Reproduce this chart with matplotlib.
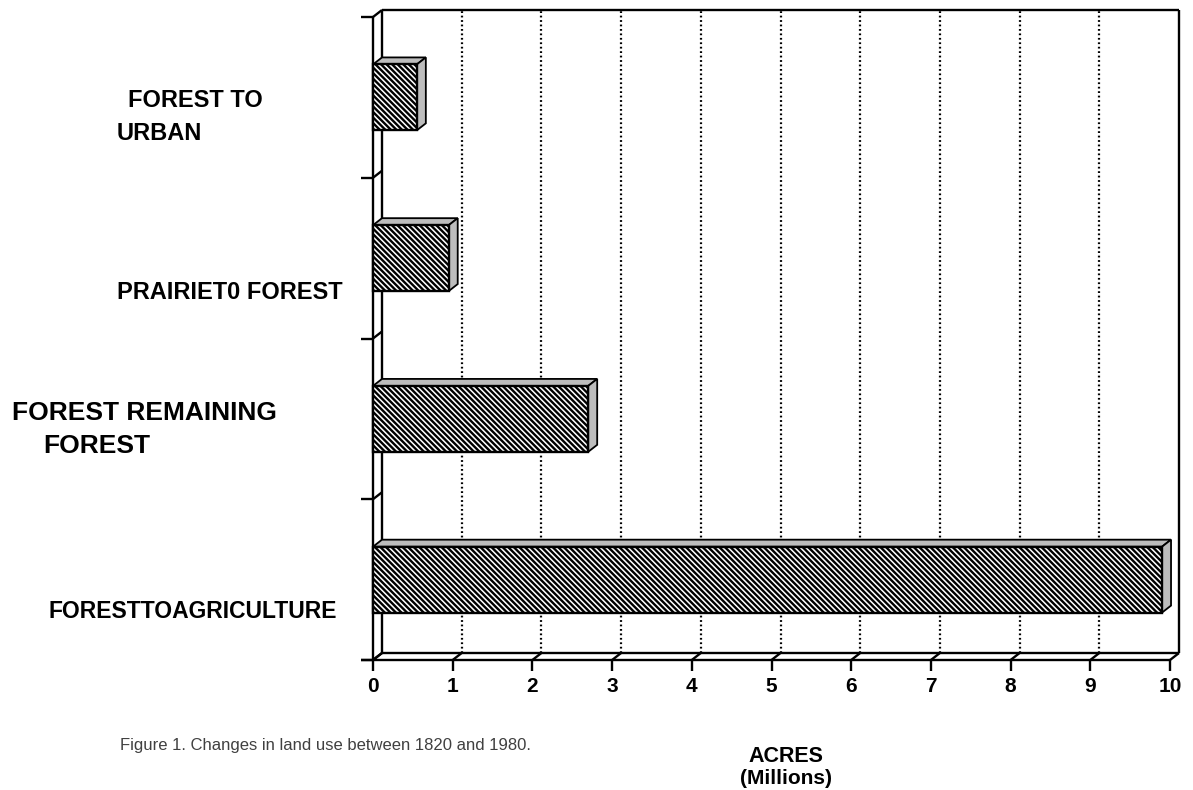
import matplotlib
matplotlib.use("Agg")
import matplotlib.pyplot as plt
from matplotlib.patches import Rectangle, Polygon

# land use change, millions of acres (bottom bar first)
categories = ["Forest to agriculture", "Forest remaining forest",
              "Prairie to forest", "Forest to urban"]
acres = [9.9, 2.7, 0.95, 0.55]
label_lines = [
    ["FORESTTOAGRICULTURE"],
    ["FOREST REMAINING", "FOREST"],
    ["PRAIRIET0 FOREST"],
    ["FOREST TO", "URBAN"],
]
x_ticks = [0, 1, 2, 3, 4, 5, 6, 7, 8, 9, 10]
caption = "Figure 1. Changes in land use between 1820 and 1980."
x_title = ["ACRES", "(Millions)"]

W, H, DPI = 1193, 790, 100
plt.rcParams["font.family"] = ["Liberation Sans", "DejaVu Sans"]
plt.rcParams["hatch.linewidth"] = 1.7
plt.rcParams["hatch.color"] = "black"


def fx(px):
    return px / W


def fy(py):
    return 1 - py / H


fig = plt.figure(figsize=(W / DPI, H / DPI), dpi=DPI)
left, right, top, bottom = 373, 1170, 17, 660
ax = fig.add_axes([fx(left), fy(bottom), (right - left) / W, (bottom - top) / H])
ax.set_xlim(0, 10)
ax.set_ylim(-0.5, len(categories) - 0.5)
ax.axis("off")

# depth of the 3-D box in data units (9 px right, 7 px up)
ddx = 9 / (right - left) * 10
ddy = 7 / (bottom - top) * len(categories)
ymin, ymax = -0.5, len(categories) - 0.5
px_x = 10 / (right - left)
px_y = len(categories) / (bottom - top)

lw = 1.7
line = dict(color="black", lw=lw, clip_on=False, solid_capstyle="butt")

# back wall grid
for t in x_ticks[1:-1]:
    ax.plot([t + ddx, t + ddx], [ymin + ddy, ymax + ddy], color="black",
            lw=1.6, ls=(0, (0.8, 1.2)), clip_on=False, zorder=1)

# back wall frame
ax.plot([ddx, ddx], [ymin + ddy, ymax + ddy], **line)
ax.plot([ddx, 10 + ddx], [ymax + ddy, ymax + ddy], **line)
ax.plot([10 + ddx, 10 + ddx], [ymin + ddy, ymax + ddy], **line)
ax.plot([ddx, 10 + ddx], [ymin + ddy, ymin + ddy], **line)

# front axes
ax.plot([0, 0], [ymin, ymax], **line)
ax.plot([-12 * px_x, 10], [ymin, ymin], **line)

# x ticks with floor connectors
for t in x_ticks:
    ax.plot([t, t + ddx], [ymin, ymin + ddy], **line)
    ax.plot([t, t], [ymin, ymin - 11 * px_y], **line)
    ax.annotate(str(t), (t, ymin), xytext=(0, -27), textcoords="offset pixels",
                ha="center", va="center", fontsize=15, fontweight="bold",
                annotation_clip=False)

# y ticks with wall connectors
for k in range(len(categories) + 1):
    yb = ymin + k
    ax.plot([0, ddx], [yb, yb + ddy], **line)
    ax.plot([-12 * px_x, 0], [yb, yb], **line)

# bars: hatched front face, shaded top and side
bh = 0.41
for i, v in enumerate(acres):
    y0, y1 = i - bh / 2, i + bh / 2
    top_face = Polygon([(0, y1), (v, y1), (v + ddx, y1 + ddy), (ddx, y1 + ddy)],
                       closed=True, facecolor="#bdbdbd", edgecolor="black",
                       lw=1.3, zorder=3, clip_on=False)
    side_face = Polygon([(v, y0), (v + ddx, y0 + ddy), (v + ddx, y1 + ddy), (v, y1)],
                        closed=True, facecolor="#bdbdbd", edgecolor="black",
                        lw=1.3, zorder=3, clip_on=False)
    front = Rectangle((0, y0), v, bh, facecolor="white", edgecolor="black",
                      hatch="\\\\\\\\\\\\", lw=lw, zorder=4, clip_on=False)
    ax.add_patch(top_face)
    ax.add_patch(side_face)
    ax.add_patch(front)

# category labels, placed by hand like the original artwork
label_pos = [
    [(48, 618)],
    [(12, 420), (43, 453)],
    [(117, 299)],
    [(128, 107), (117, 140)],
]
label_size = [16.5, 19, 17, 17]
for lines, pos, size in zip(label_lines, label_pos, label_size):
    for text, (px, py) in zip(lines, pos):
        fig.text(fx(px), fy(py), text, ha="left", va="baseline",
                 fontsize=size, fontweight="bold")

fig.text(fx(120), fy(750), caption, ha="left", va="baseline",
         fontsize=12, color="#404040")
fig.text(fx(786), fy(762), x_title[0], ha="center", va="baseline",
         fontsize=15.5, fontweight="bold")
fig.text(fx(786), fy(784), x_title[1], ha="center", va="baseline",
         fontsize=15, fontweight="bold")

fig.savefig("out.png", dpi=DPI)
